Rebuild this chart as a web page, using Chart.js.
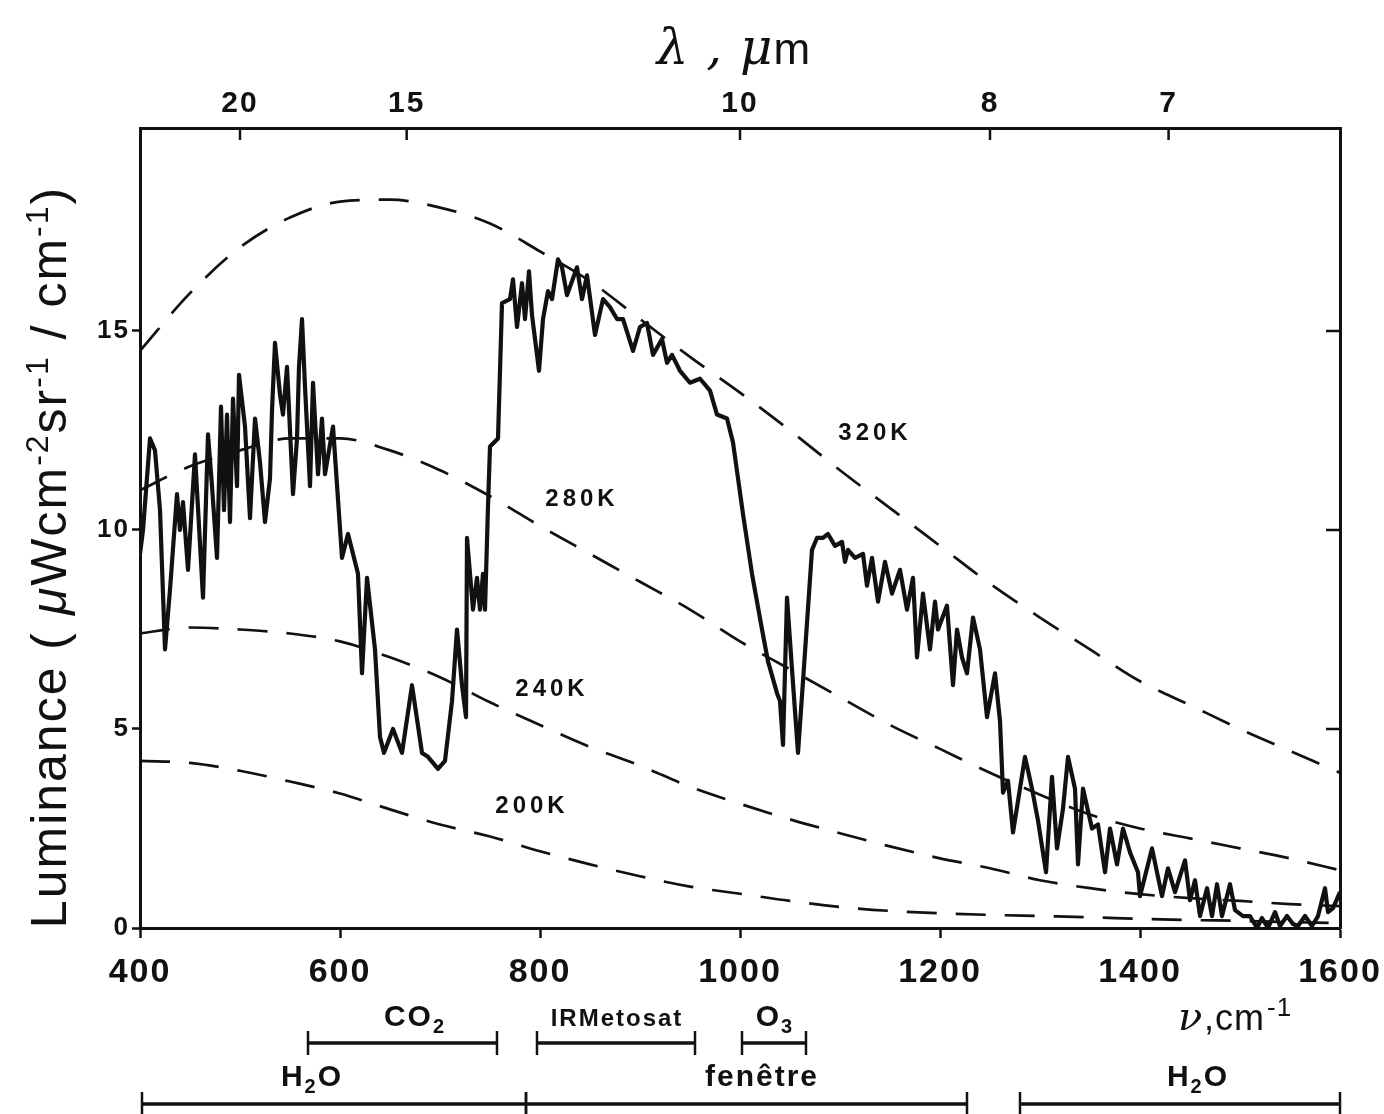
<!DOCTYPE html>
<html>
<head>
<meta charset="utf-8">
<script src="https://cdn.jsdelivr.net/npm/chart.js@4.4.1/dist/chart.umd.min.js"></script>
<style>
html, body { margin: 0; padding: 0; background: #fff; }
</style>
</head>
<body>
<canvas id="spectre" width="1384" height="1114"></canvas>
<script>
// spectre mesuré (nombre d'onde cm-1 / luminance)
const specNu = [400, 403, 410, 415, 420, 425, 430, 437, 440, 443, 448, 455, 463, 468, 472, 477, 481, 484, 487, 490, 493, 497, 499,
  505, 510, 515, 520, 525, 530, 532, 535, 540, 543, 547, 553, 557, 559, 562, 565, 570, 573, 578, 582, 585, 593,
  602, 608, 618, 622, 627, 635, 640, 644, 653, 662, 672, 682, 688, 698, 705, 712, 717, 722, 726, 727, 733, 737, 740, 743, 745, 748, 750, 758,
  762, 770, 773, 777, 782, 785, 789, 792, 799, 803, 808, 812, 818, 822, 827, 837, 842, 847, 855, 863, 870, 877, 883, 893,
  900, 907, 913, 922, 927, 932, 940, 950, 960, 970, 977, 987, 993, 1003, 1012, 1022, 1028, 1037, 1040, 1043, 1047, 1052, 1058, 1063,
  1072, 1077, 1083, 1088, 1095, 1102, 1105, 1108, 1115, 1123, 1127, 1132, 1138, 1145, 1152, 1160, 1167, 1173, 1177, 1183, 1190, 1195, 1198,
  1207, 1213, 1217, 1222, 1227, 1233, 1240, 1247, 1255, 1260, 1263, 1268, 1273, 1285, 1292, 1298, 1306, 1312, 1317, 1323, 1328, 1335, 1338,
  1343, 1352, 1358, 1365, 1370, 1377, 1383, 1390, 1398, 1400, 1412, 1422, 1428, 1435, 1445, 1450, 1455, 1460, 1467, 1472, 1477, 1482,
  1490, 1495, 1503, 1510, 1517, 1522, 1528, 1535, 1540, 1547, 1553, 1558, 1565, 1572, 1578, 1585, 1588, 1593, 1600];
const specLum = [9.4, 10.0, 12.3, 12.0, 10.5, 7.0, 8.5, 10.9, 10.0, 10.7, 9.0, 11.9, 8.3, 12.4, 11.1, 9.3, 13.1, 10.5, 12.9, 10.2, 13.3, 11.1, 13.9,
  12.6, 10.3, 12.8, 11.7, 10.2, 11.3, 13.0, 14.7, 13.4, 12.9, 14.1, 10.9, 12.3, 14.1, 15.3, 13.6, 11.1, 13.7, 11.4, 12.8, 11.4, 12.6,
  9.3, 9.9, 8.9, 6.4, 8.8, 7.0, 4.8, 4.4, 5.0, 4.4, 6.1, 4.4, 4.3, 4.0, 4.2, 5.7, 7.5, 6.1, 5.3, 9.8, 8.0, 8.8, 8.0, 8.9, 8.0, 10.6, 12.1, 12.3,
  15.7, 15.8, 16.3, 15.1, 16.2, 15.3, 16.5, 15.4, 14.0, 15.3, 16.0, 15.8, 16.8, 16.6, 15.9, 16.6, 15.8, 16.4, 14.9, 15.8, 15.6, 15.3, 15.3, 14.5,
  15.1, 15.2, 14.4, 14.8, 14.2, 14.4, 14.0, 13.7, 13.8, 13.5, 12.9, 12.8, 12.2, 10.4, 8.9, 7.5, 6.7, 5.9, 5.7, 4.6, 8.3, 6.5, 4.4, 6.2,
  9.5, 9.8, 9.8, 9.9, 9.6, 9.7, 9.2, 9.5, 9.3, 9.4, 8.6, 9.3, 8.2, 9.2, 8.4, 9.0, 8.0, 8.8, 6.8, 8.4, 7.0, 8.2, 7.5,
  8.1, 6.1, 7.5, 6.8, 6.4, 7.8, 7.0, 5.3, 6.4, 5.2, 3.4, 3.7, 2.4, 4.3, 3.5, 2.7, 1.4, 3.8, 2.0, 3.0, 4.3, 3.5, 1.6,
  3.5, 2.5, 2.6, 1.4, 2.5, 1.6, 2.5, 1.9, 1.4, 0.8, 2.0, 0.8, 1.5, 0.9, 1.7, 0.7, 1.2, 0.3, 1.0, 0.3, 1.1, 0.3,
  1.1, 0.45, 0.3, 0.3, 0.0, 0.25, 0.0, 0.4, 0.05, 0.3, 0.1, 0.05, 0.3, 0.05, 0.3, 1.0, 0.4, 0.5, 0.9];

// courbes du corps noir
const bbNu = [400, 450, 500, 550, 600, 650, 700, 750, 800, 850, 900, 950, 1000, 1050, 1100, 1150, 1200, 1250, 1300, 1350, 1400, 1450, 1500, 1550, 1600];
const bb320 = [14.5, 15.95, 17.1, 17.85, 18.25, 18.3, 18.1, 17.7, 17.0, 16.25, 15.3, 14.35, 13.45, 12.5, 11.5, 10.55, 9.6, 8.65, 7.8, 7.0, 6.2, 5.6, 5.0, 4.45, 3.9];
const bb280 = [11.0, 11.6, 12.0, 12.3, 12.3, 12.0, 11.5, 10.85, 10.1, 9.4, 8.7, 8.0, 7.2, 6.5, 5.8, 5.1, 4.5, 3.9, 3.35, 2.85, 2.5, 2.25, 2.0, 1.75, 1.45];
const bb240 = [7.4, 7.55, 7.5, 7.4, 7.2, 6.8, 6.3, 5.67, 5.1, 4.55, 4.08, 3.55, 3.12, 2.73, 2.38, 2.05, 1.75, 1.5, 1.2, 1.0, 0.85, 0.75, 0.68, 0.6, 0.55];
const bb200 = [4.2, 4.15, 3.95, 3.68, 3.38, 2.98, 2.6, 2.3, 1.93, 1.6, 1.3, 1.04, 0.86, 0.68, 0.53, 0.43, 0.37, 0.33, 0.3, 0.27, 0.23, 0.2, 0.18, 0.15, 0.12];
const bbNames = ['320K', '280K', '240K', '200K'];
const bbLabelNu = [1135, 842, 812, 792];
const bbLabelLum = [12.43, 10.78, 6.0, 3.06];

// axes
const nuTicks = [400, 600, 800, 1000, 1200, 1400, 1600];
const lumTicks = [0, 5, 10, 15];
const lambdaTicks = [20, 15, 10, 8, 7];

// bandes d'absorption sous l'axe
const bandText = [['CO', '2', ''], ['IRMetosat', '', ''], ['O', '3', ''], ['H', '2', 'O'], ['fenêtre', '', ''], ['H', '2', 'O']];
const bandStart = [568, 797, 1002, 402, 786, 1280];
const bandEnd = [757, 955, 1066, 786, 1227, 1600];
const bandTextNu = [675, 877, 1035, 572, 1022, 1458];
const bandRow = [0, 0, 0, 1, 1, 1];

const INK = '#111';
const SANS = '"Liberation Sans", Arial, sans-serif';
const pts = (xs, ys) => xs.map((x, i) => ({ x: x, y: ys[i] }));

function bbDataset(vals) {
    return {
        data: pts(bbNu, vals),
        borderColor: INK,
        borderWidth: 2.7,
        borderDash: [30, 19],
        pointRadius: 0,
        cubicInterpolationMode: 'monotone',
        fill: false
    };
}

// texte avec indice (H2O, CO2 ...)
function subText(ctx, parts, cx, y, size, weight) {
    const big = weight + ' ' + size + 'px ' + SANS;
    const small = weight + ' ' + Math.round(size * 0.68) + 'px ' + SANS;
    ctx.font = big; const w0 = ctx.measureText(parts[0]).width; const w2 = ctx.measureText(parts[2]).width;
    ctx.font = small; const w1 = ctx.measureText(parts[1]).width;
    let x = cx - (w0 + w1 + w2) / 2;
    ctx.textAlign = 'left'; ctx.textBaseline = 'alphabetic';
    ctx.font = big; ctx.fillText(parts[0], x, y); x += w0;
    ctx.font = small; ctx.fillText(parts[1], x, y + size * 0.22); x += w1;
    ctx.font = big; ctx.fillText(parts[2], x, y);
}

const overlay = {
    id: 'overlay',
    beforeDraw(chart) {
        chart.ctx.letterSpacing = '2px';
    },
    afterDraw(chart) {
        const ctx = chart.ctx;
        const xs = chart.scales.x, ys = chart.scales.y;
        const area = chart.chartArea;
        ctx.save();
        ctx.fillStyle = INK; ctx.strokeStyle = INK;

        // graduations intérieures (haut et droite)
        ctx.lineWidth = 2.5;
        lambdaTicks.forEach(l => {
            const px = xs.getPixelForValue(10000 / l);
            ctx.beginPath(); ctx.moveTo(px, area.top); ctx.lineTo(px, area.top + 12); ctx.stroke();
        });
        lumTicks.slice(1).forEach(v => {
            const py = ys.getPixelForValue(v);
            ctx.beginPath(); ctx.moveTo(area.right - 14, py); ctx.lineTo(area.right, py); ctx.stroke();
        });

        // étiquettes des températures
        ctx.letterSpacing = '4px';
        ctx.font = 'bold 24px ' + SANS;
        ctx.textAlign = 'center'; ctx.textBaseline = 'middle';
        bbNames.forEach((n, i) => {
            ctx.fillText(n, xs.getPixelForValue(bbLabelNu[i]), ys.getPixelForValue(bbLabelLum[i]));
        });

        // titre du haut : lambda, um
        ctx.letterSpacing = '1px';
        ctx.textAlign = 'left'; ctx.textBaseline = 'alphabetic';
        ctx.font = 'italic 50px "DejaVu Serif", serif';
        const tA = 'λ , μ';
        const wA = ctx.measureText(tA).width;
        ctx.font = '44px ' + SANS;
        const wB = ctx.measureText('m').width;
        let tx = 734 - (wA + wB) / 2;
        ctx.font = 'italic 50px "DejaVu Serif", serif';
        ctx.fillText(tA, tx, 64);
        ctx.font = '44px ' + SANS;
        ctx.fillText('m', tx + wA, 64);

        // unité de l'axe x
        ctx.font = 'italic 40px "DejaVu Serif", serif';
        ctx.fillText('ν', 1178, 1030);
        ctx.font = '36px ' + SANS;
        ctx.fillText(',cm', 1204, 1030);
        const wc = ctx.measureText(',cm').width;
        ctx.font = '26px ' + SANS;
        ctx.fillText('-1', 1204 + wc + 2, 1016);

        // bandes
        ctx.letterSpacing = '2px';
        const barY = [1043, 1104];
        const txtY = [1026, 1086];
        bandText.forEach((parts, i) => {
            const r = bandRow[i];
            const x0 = xs.getPixelForValue(bandStart[i]), x1 = xs.getPixelForValue(bandEnd[i]);
            ctx.lineWidth = 3.5;
            ctx.beginPath(); ctx.moveTo(x0, barY[r]); ctx.lineTo(x1, barY[r]); ctx.stroke();
            ctx.lineWidth = 2.5;
            [x0, x1].forEach(px => { ctx.beginPath(); ctx.moveTo(px, barY[r] - 12); ctx.lineTo(px, barY[r] + 12); ctx.stroke(); });
            const small = parts[0] === 'IRMetosat';
            subText(ctx, parts, xs.getPixelForValue(bandTextNu[i]), txtY[r], small ? 24 : 30, small ? 'bold' : '600');
        });

        // titre de l'axe y
        ctx.letterSpacing = '2px';
        const pieces = [['Luminance ( ', 0, ''], ['μ', 0, 'italic'], ['Wcm', 0, ''], ['-2', 1, ''], ['sr', 0, ''], ['-1', 1, ''],
            [' / ', 0, ''], ['cm', 0, ''], ['-1', 1, ''], [')', 0, '']];
        const fontFor = p => (p[2] ? p[2] + ' ' : '') + (p[1] ? '32px ' : '50px ') + SANS;
        let total = 0;
        pieces.forEach(p => { ctx.font = fontFor(p); total += ctx.measureText(p[0]).width; });
        ctx.translate(66, 557);
        ctx.rotate(-Math.PI / 2);
        let px = -total / 2;
        pieces.forEach(p => {
            ctx.font = fontFor(p);
            ctx.fillText(p[0], px, p[1] ? -18 : 0);
            px += ctx.measureText(p[0]).width;
        });
        ctx.restore();
    }
};

const ctx = document.getElementById('spectre').getContext('2d');
new Chart(ctx, {
    type: 'line',
    data: {
        datasets: [
            {
                data: pts(specNu, specLum),
                borderColor: INK,
                borderWidth: 4.2,
                pointRadius: 0,
                tension: 0,
                fill: false,
                borderJoinStyle: 'round'
            },
            bbDataset(bb320),
            bbDataset(bb280),
            bbDataset(bb240),
            bbDataset(bb200)
        ]
    },
    options: {
        responsive: false,
        animation: false,
        devicePixelRatio: 1,
        layout: { padding: 0 },
        plugins: { legend: { display: false }, tooltip: { enabled: false } },
        scales: {
            x: {
                type: 'linear', position: 'bottom', min: 400, max: 1600,
                afterBuildTicks: s => { s.ticks = nuTicks.map(v => ({ value: v })); },
                afterFit: s => { s.height = 186; s.paddingLeft = 0; s.paddingRight = 0; },
                ticks: { color: INK, padding: 14, maxRotation: 0, callback: v => String(v), font: { family: SANS, size: 34, weight: 'bold' } },
                grid: { drawOnChartArea: false, tickLength: 10, tickWidth: 2.5, tickColor: INK },
                border: { display: true, color: INK, width: 3 }
            },
            xTop: {
                type: 'linear', position: 'top', min: 400, max: 1600,
                afterBuildTicks: s => { s.ticks = lambdaTicks.map(l => ({ value: 10000 / l })); },
                afterFit: s => { s.height = 128; s.paddingLeft = 0; s.paddingRight = 0; },
                ticks: {
                    color: INK, padding: 6, maxRotation: 0,
                    callback: v => String(Math.round(10000 / v)),
                    font: { family: SANS, size: 30, weight: 'bold' }
                },
                grid: { drawOnChartArea: false, drawTicks: false },
                border: { display: true, color: INK, width: 3 }
            },
            y: {
                type: 'linear', position: 'left', min: 0, max: 20.1,
                afterBuildTicks: s => { s.ticks = lumTicks.map(v => ({ value: v })); },
                afterFit: s => { s.width = 140; },
                ticks: { color: INK, padding: 2, font: { family: SANS, size: 26, weight: 'bold' } },
                grid: { drawOnChartArea: false, tickLength: 8, tickWidth: 2.5, tickColor: INK },
                border: { display: true, color: INK, width: 3 }
            },
            yRight: {
                type: 'linear', position: 'right', min: 0, max: 20.1,
                afterFit: s => { s.width = 44; },
                ticks: { display: false },
                grid: { drawOnChartArea: false, drawTicks: false },
                border: { display: true, color: INK, width: 3 }
            }
        }
    },
    plugins: [overlay]
});
</script>
</body>
</html>
